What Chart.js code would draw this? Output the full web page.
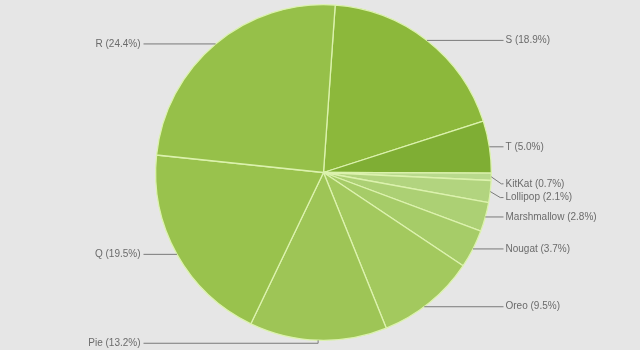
<!DOCTYPE html>
<html>
<head>
<meta charset="utf-8">
<script src="https://cdn.jsdelivr.net/npm/chart.js@4/dist/chart.umd.min.js"></script>
<style>
  html,body{margin:0;padding:0;background:#e6e6e6;}
  #wrap{width:640px;height:350px;}
</style>
</head>
<body>
<div id="wrap"><canvas id="pie"></canvas></div>
<script>
const labels = ['S','T','KitKat','Lollipop','Marshmallow','Nougat','Oreo','Pie','Q','R'];
const shares = [18.9, 5.0, 0.7, 2.1, 2.8, 3.7, 9.5, 13.2, 19.5, 24.4];
const colors = ['#8cb83b','#7fae34','#b8d98c','#b2d47f','#acd074','#a6cc68','#a3c95e','#9ec556','#99c24d','#96c049'];

// leader lines + labels outside the pie
const calloutPlugin = {
  id: 'callouts',
  afterDatasetsDraw(chart, args, opts) {
    const ctx = chart.ctx;
    const arcs = chart.getDatasetMeta(0).data;
    ctx.save();
    ctx.font = '10px "Liberation Sans", Arial, sans-serif';
    ctx.fillStyle = '#6b6b6b';
    ctx.strokeStyle = '#7a7a7a';
    ctx.lineWidth = 1;
    ctx.textBaseline = 'middle';
    arcs.forEach((arc, i) => {
      const mid = (arc.startAngle + arc.endAngle) / 2;
      let px = arc.x + Math.cos(mid) * arc.outerRadius;
      let py = arc.y + Math.sin(mid) * arc.outerRadius;
      const right = px >= arc.x;
      const ex = right ? arc.x + opts.reach : arc.x - opts.reach;
      ctx.beginPath();
      let ly = py;
      if (opts.slide[i]) {
        // keep the line straight, move its start along the rim
        ly = py + opts.slide[i];
        const dy = ly - arc.y;
        px = arc.x + (right ? 1 : -1) * Math.sqrt(Math.max(0, arc.outerRadius ** 2 - dy * dy));
        py = ly;
        ctx.moveTo(px, py);
      } else if (opts.bend[i]) {
        ly = py + opts.bend[i];
        ctx.moveTo(px, py);
        ctx.lineTo(right ? px + 10 : px - 10, ly);
      } else if (py > arc.y + arc.outerRadius - 3) {
        ly = py + 3;
        ctx.moveTo(px, py);
        ctx.lineTo(px, ly);
      } else {
        ctx.moveTo(px, py);
      }
      ctx.lineTo(ex, ly);
      ctx.stroke();
      const txt = labels[i] + ' (' + shares[i].toFixed(1) + '%)';
      ctx.textAlign = right ? 'left' : 'right';
      ctx.fillText(txt, right ? ex + 2 : ex - 3, ly);
    });
    ctx.restore();
  }
};

new Chart(document.getElementById('pie'), {
  type: 'pie',
  data: {
    labels: labels,
    datasets: [{
      data: shares,
      backgroundColor: colors,
      borderColor: '#dcf2ae',
      borderWidth: 1.3
    }]
  },
  options: {
    responsive: true,
    maintainAspectRatio: false,
    animation: false,
    rotation: 4,
    layout: { padding: { left: 7, right: 0, top: 4, bottom: 9 } },
    plugins: {
      legend: { display: false },
      tooltip: { enabled: false },
      callouts: { reach: 180, bend: { 2: 7, 3: 6 }, slide: { 6: 4 } }
    }
  },
  plugins: [calloutPlugin]
});
</script>
</body>
</html>
